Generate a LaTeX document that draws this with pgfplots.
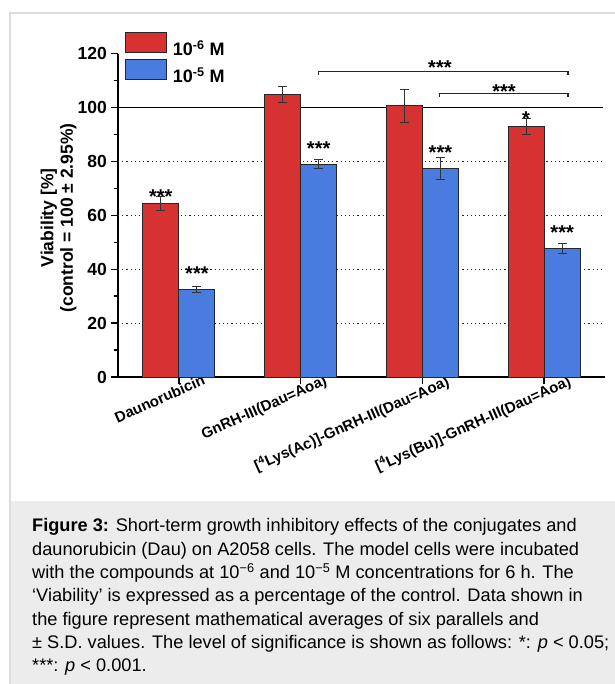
\documentclass[border=0pt]{standalone}
\usepackage{pgfplots}
\pgfplotsset{compat=1.18}
\usepackage{fontspec}
\setmainfont{Liberation Sans}
\definecolor{barred}{RGB}{214,50,49}
\definecolor{barblue}{RGB}{73,124,222}
\definecolor{framegray}{RGB}{221,221,221}
\definecolor{capgray}{RGB}{236,236,236}
\newcommand{\fs}[2]{\fontsize{#1bp}{#2bp}\selectfont}

\tikzset{stars/.style={font=\fs{20}{20}\bfseries, inner sep=0pt, anchor=base, yshift=-11.5bp}}
\pgfplotsset{
  mybar/.style={ybar, bar width=36bp, bar shift=0pt, draw=black!85, line width=0.9bp,
    legend image code/.code={\draw[##1,/tikz/.cd,draw=black!85] (0bp,-3.7bp) rectangle (41bp,16.3bp);},
    error bars/y dir=both, error bars/y explicit,
    error bars/error bar style={line width=1bp, black!80},
    error bars/error mark options={rotate=90, line width=1bp, mark size=4.5bp, black!80}},
}

\begin{document}
\begin{tikzpicture}[x=1bp,y=1bp]
\useasboundingbox (0,0) rectangle (615,684);
\fill[capgray] (10,0) rectangle (615,183);
\draw[framegray, line width=1.5bp] (10,0) -- (10,671) -- (615,671);
\node[anchor=base west, align=left, inner sep=0pt, font=\fs{18.2}{23.3}] at (32,12.3) {%
\textbf{Figure 3:} Short-term growth inhibitory effects of the conjugates and\\
daunorubicin (Dau) on A2058 cells. The model cells were incubated\\
with the compounds at 10\textsuperscript{−6} and 10\textsuperscript{−5} M concentrations for 6 h. The\\
‘Viability’ is expressed as a percentage of the control. Data shown in\\
the figure represent mathematical averages of six parallels and\\
± S.D. values. The level of significance is shown as follows: *: \textit{p} < 0.05;\\
***: \textit{p} < 0.001.};

\begin{axis}[
  at={(118bp,307bp)}, anchor=south west,
  scale only axis, width=487bp, height=323.4bp,
  xmin=-0.5, xmax=3.5, ymin=0, ymax=120,
  clip=false,
  axis x line*=bottom, axis y line*=left,
  axis line style={line width=1.6bp, black},
  tick align=outside,
  major tick length=7bp, minor tick length=4bp,
  tick style={line width=1.3bp, black},
  ytick={0,20,...,120}, minor y tick num=1,
  xtick={0,1,2,3},
  xticklabels={Daunorubicin, GnRH-III(Dau=Aoa), {[\textsuperscript{4}Lys(Ac)]-GnRH-III(Dau=Aoa)}, {[\textsuperscript{4}Lys(Bu)]-GnRH-III(Dau=Aoa)}},
  /pgf/number format/assume math mode=true,
  yticklabel style={font=\fs{17.5}{17.5}\bfseries, anchor=east, inner sep=0pt, xshift=-4bp},
  xticklabel style={font=\fs{15}{15}\bfseries, rotate=24, anchor=north east, inner sep=0pt, xshift=25bp},
  ylabel={Viability [\%]\\(control = 100 ± 2.95\%)},
  ylabel style={font=\fs{17.5}{19.5}\bfseries, align=center, at={(axis description cs:-0.122,0.492)}, anchor=center},
  legend style={at={(axis description cs:0.0144,1.067)}, anchor=north west, draw=none, fill=none,
    inner sep=0pt, outer sep=0pt, row sep=2bp, column sep=6bp,
    font=\fs{18}{18}\bfseries, nodes={inner sep=0pt}, cells={anchor=west}},
]
% reference lines
\addplot[forget plot, black!85, line width=0.9bp, dash pattern=on 1.2bp off 3bp] coordinates {(-0.5,20) (3.5,20)};
\addplot[forget plot, black!85, line width=0.9bp, dash pattern=on 1.2bp off 3bp] coordinates {(-0.5,40) (3.5,40)};
\addplot[forget plot, black!85, line width=0.9bp, dash pattern=on 1.2bp off 3bp] coordinates {(-0.5,60) (3.5,60)};
\addplot[forget plot, black!85, line width=0.9bp, dash pattern=on 1.2bp off 3bp] coordinates {(-0.5,80) (3.5,80)};
\addplot[forget plot, black, line width=1.3bp] coordinates {(-0.5,100) (3.48,100)};

% bars: 10^-6 M left of each category, 10^-5 M right
\addplot[mybar, fill=barred] coordinates {
  (-0.148,64.4) +- (0,2.6)
  (0.852,104.8) +- (0,2.9)
  (1.852,100.6) +- (0,6.2)
  (2.852,93.0) +- (0,3.0)
};
\addlegendentry{10\textsuperscript{-6} M}
\addplot[mybar, fill=barblue] coordinates {
  (0.148,32.5) +- (0,1.0)
  (1.148,79.0) +- (0,1.7)
  (2.148,77.4) +- (0,4.0)
  (3.148,47.7) +- (0,2.0)
};
\addlegendentry{10\textsuperscript{-5} M}

% significance marks
\node[stars] at (axis cs:-0.148,68.8) {***};
\node[stars] at (axis cs:0.148,40.1) {***};
\node[stars] at (axis cs:1.148,86.5) {***};
\node[stars] at (axis cs:2.148,85.0) {***};
\node[stars] at (axis cs:2.852,97.6) {*};
\node[stars] at (axis cs:3.148,55.3) {***};
\draw[black!85, line width=1.1bp] (axis cs:1.145,112.1) -- (axis cs:1.145,113.2) -- (axis cs:3.196,113.2) -- (axis cs:3.196,112.1);
\draw[black!85, line width=1.1bp] (axis cs:2.144,104.0) -- (axis cs:2.144,105.3) -- (axis cs:3.196,105.3) -- (axis cs:3.196,104.0);
\node[stars] at (axis cs:2.144,116.5) {***};
\node[stars] at (axis cs:2.670,107.6) {***};
\end{axis}
\end{tikzpicture}
\end{document}
